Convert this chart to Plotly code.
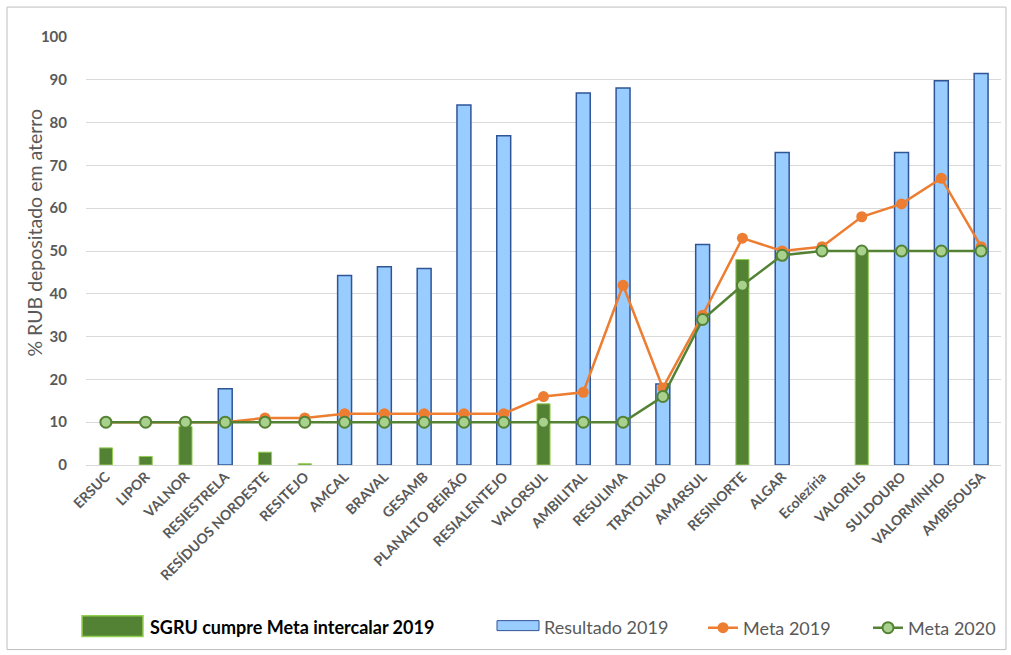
import plotly.graph_objects as go

categories = ["ERSUC", "LIPOR", "VALNOR", "RESIESTRELA", "RESÍDUOS NORDESTE", "RESITEJO",
              "AMCAL", "BRAVAL", "GESAMB", "PLANALTO BEIRÃO", "RESIALENTEJO", "VALORSUL",
              "AMBILITAL", "RESULIMA", "TRATOLIXO", "AMARSUL", "RESINORTE", "ALGAR",
              "Ecolezíria", "VALORLIS", "SULDOURO", "VALORMINHO", "AMBISOUSA"]

# SGRU that meet the 2019 intermediate target (green bars)
cumpre_2019 = [4, 2, 9, None, 3, 0.3, None, None, None, None, None, 14.3,
               None, None, None, None, 48, None, None, 50, None, None, None]
# Resultado 2019 for the others (blue bars)
resultado_2019 = [None, None, None, 17.8, None, None, 44.3, 46.3, 45.9, 84.1, 76.9, None,
                  86.9, 88.1, 18.9, 51.5, None, 73, None, None, 73, 89.8, 91.5]
meta_2019 = [10, 10, 10, 10, 11, 11, 12, 12, 12, 12, 12, 16,
             17, 42, 18, 35, 53, 50, 51, 58, 61, 67, 51]
meta_2020 = [10, 10, 10, 10, 10, 10, 10, 10, 10, 10, 10, 10,
             10, 10, 16, 34, 42, 49, 50, 50, 50, 50, 50]

FONT = "Lato"
GRAY = "#595959"
BLUE_FILL, BLUE_LINE = "#99CCFF", "#2F5597"
GREEN_FILL, GREEN_EDGE = "#548235", "#92D050"

fig = go.Figure()
fig.add_trace(go.Bar(x=categories, y=resultado_2019, name="Resultado 2019", width=0.35,
                     showlegend=False,
                     marker=dict(color=BLUE_FILL, line=dict(color=BLUE_LINE, width=1.5))))
fig.add_trace(go.Bar(x=categories, y=cumpre_2019, name="SGRU cumpre Meta intercalar 2019",
                     width=0.33, showlegend=False,
                     marker=dict(color=GREEN_FILL, line=dict(color=GREEN_EDGE, width=1))))
fig.add_trace(go.Scatter(x=categories, y=meta_2019, name="Meta 2019", mode="lines+markers",
                         line=dict(color="#ED7D31", width=2.5),
                         marker=dict(color="#ED7D31", size=11),
                         legend="legend"))
fig.add_trace(go.Scatter(x=categories, y=meta_2020, name="Meta 2020", mode="lines+markers",
                         line=dict(color="#548235", width=2.5),
                         marker=dict(color="#A9D18E", size=11, line=dict(color="#548235", width=2)),
                         legend="legend2"))

L, R, T, B = 86, 10, 37, 189
W, H = 1011, 655
pw, ph = W - L - R, H - T - B


def px(x):
    return (x - L) / pw


def py(y):
    return (H - B - y) / ph


legend_common = dict(orientation="h", yanchor="middle", y=py(628), xanchor="left",
                     font=dict(family=FONT, size=18, color=GRAY),
                     bgcolor="rgba(0,0,0,0)")

fig.update_layout(
    width=W, height=H,
    margin=dict(l=L, r=R, t=T, b=B),
    paper_bgcolor="white", plot_bgcolor="white",
    barmode="overlay",
    font=dict(family=FONT, color=GRAY),
    legend=dict(x=px(703), **legend_common),
    legend2=dict(x=px(868), **legend_common),
    xaxis=dict(tickangle=-45, tickfont=dict(family=FONT, size=14, color=GRAY, weight="bold"),
               showgrid=False, showline=False, ticks="", range=[-0.5, 22.5]),
    yaxis=dict(range=[0, 100], dtick=10, gridcolor="#D9D9D9", gridwidth=1,
               zeroline=True, zerolinecolor="#D9D9D9", zerolinewidth=1,
               tickfont=dict(family=FONT, size=15, color=GRAY, weight="bold"),
               ticklabelstandoff=18),
    shapes=[
        dict(type="rect", xref="paper", yref="paper", x0=px(7), x1=px(1006), y0=py(7), y1=py(651),
             line=dict(color="#BFBFBF", width=1), fillcolor="rgba(0,0,0,0)", layer="below"),
        dict(type="rect", xref="paper", yref="paper", x0=px(82), x1=px(143), y0=py(617), y1=py(638),
             line=dict(color=GREEN_EDGE, width=1.5), fillcolor=GREEN_FILL),
        dict(type="rect", xref="paper", yref="paper", x0=px(497), x1=px(539), y0=py(622), y1=py(632),
             line=dict(color=BLUE_LINE, width=1), fillcolor=BLUE_FILL),
    ],
    annotations=[
        dict(text="<b>SGRU cumpre Meta intercalar 2019</b>", xref="paper", yref="paper",
             x=px(148), y=py(628), xanchor="left", yanchor="middle", showarrow=False,
             font=dict(family=FONT, size=18, color="black")),
        dict(text="Resultado 2019", xref="paper", yref="paper",
             x=px(542), y=py(628), xanchor="left", yanchor="middle", showarrow=False,
             font=dict(family=FONT, size=18, color=GRAY)),
        dict(text="% RUB depositado em aterro", xref="paper", yref="paper",
             x=px(35), y=py(233), xanchor="center", yanchor="middle", showarrow=False,
             textangle=-90, font=dict(family=FONT, size=19.5, color=GRAY)),
    ],
)

fig.write_html("out.html")
